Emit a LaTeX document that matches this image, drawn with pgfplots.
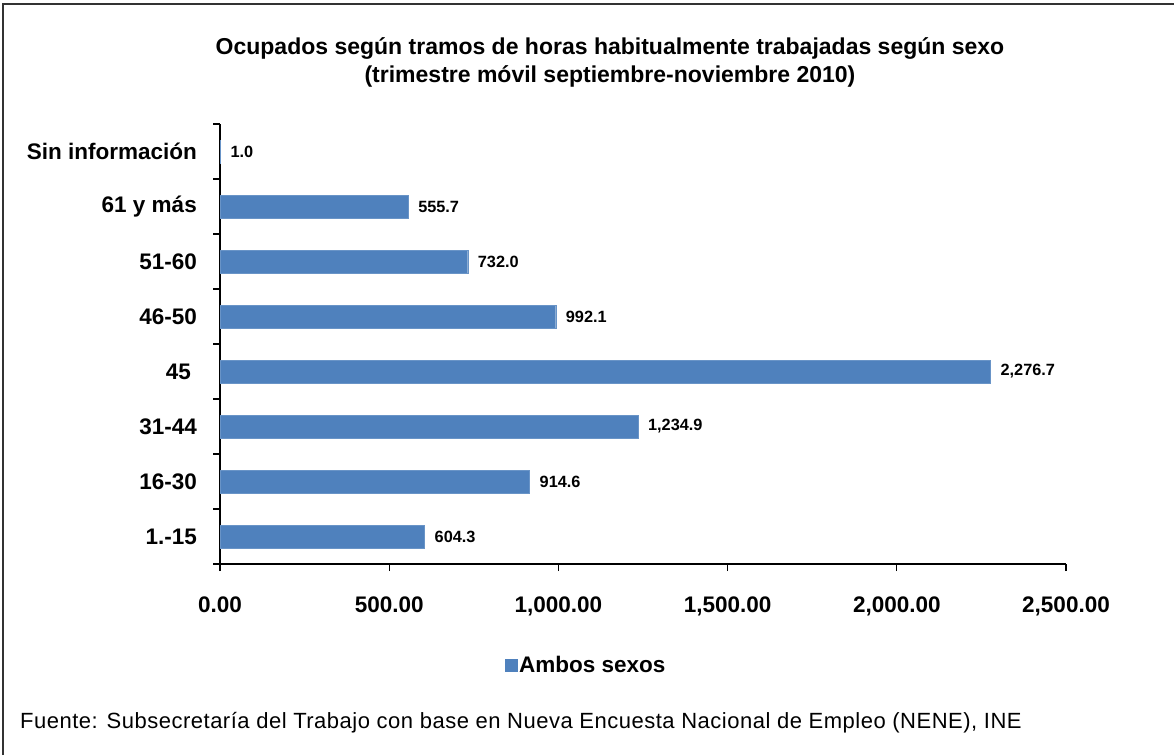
\documentclass[border=0pt]{standalone}
\usepackage{fontspec}
\setmainfont{Liberation Sans}
\usepackage{pgfplots}
\pgfplotsset{compat=1.18}
\definecolor{barblue}{HTML}{4F81BD}
\begin{document}
\begin{tikzpicture}
\useasboundingbox (0,0) rectangle (1174pt,755pt);
\draw[line width=2pt, color=black!80] (3pt,0pt) -- (3pt,751pt) -- (1174pt,751pt);
\node[anchor=base, inner sep=0pt, font=\fontsize{23}{27}\selectfont\bfseries] at (610pt,700pt) {Ocupados según tramos de horas habitualmente trabajadas según sexo};
\node[anchor=base, inner sep=0pt, font=\fontsize{23}{27}\selectfont\bfseries] at (610pt,672pt) {(trimestre móvil septiembre-noviembre 2010)};
\node[anchor=base west, inner sep=0pt, font=\fontsize{22}{26}\selectfont\addfontfeature{LetterSpace=2.3}] at (20pt,27pt) {Fuente: Subsecretaría del Trabajo con base en Nueva Encuesta Nacional de Empleo (NENE), INE};
\begin{axis}[
  at={(220pt,191pt)}, anchor=south west,
  scale only axis, width=846pt, height=440pt,
  xbar, bar width=23pt,
  xmin=0, xmax=2500, ymin=-0.5, ymax=7.5,
  axis lines*=left,
  axis line style={line width=1.2pt, black},
  tick align=outside,
  xtick={0,500,1000,1500,2000,2500},
  xticklabels={0.00,500.00,{1,000.00},{1,500.00},{2,000.00},{2,500.00}},
  ytick={0,1,2,3,4,5,6,7},
  yticklabels={1.-15,16-30,31-44,{45\hspace*{6pt}},46-50,51-60,61 y más,Sin información},
  minor ytick={-0.5,0.5,1.5,2.5,3.5,4.5,5.5,6.5,7.5},
  major tick length=7pt, minor tick length=7pt,
  ytick style={draw=none},
  minor y tick style={line width=1.2pt, black, draw=black},
  xtick style={line width=1.2pt, black},
  ticklabel style={font=\fontsize{22.5}{27}\selectfont\bfseries},
  yticklabel style={inner sep=0pt, xshift=-16pt},
  xticklabel style={inner sep=0pt, anchor=base, yshift=-41pt},
  nodes near coords={\pgfmathprintnumber[fixed,fixed zerofill,precision=1,1000 sep={,}]{\pgfplotspointmeta}},
  point meta=x,
  nodes near coords style={font=\fontsize{16.3}{19}\selectfont\bfseries, anchor=west, inner sep=0pt, xshift=10pt, /pgf/number format/assume math mode=true},
  legend style={at={(0.4326,-0.2295)}, anchor=center, draw=none, fill=none, font=\fontsize{22.5}{27}\selectfont\bfseries, inner sep=0pt},
  legend image code/.code={\fill[barblue] (-4pt,-6pt) rectangle (8pt,6pt);},
  clip=false,
]
\addplot[fill=barblue, draw=barblue!85!white] coordinates {
(604.3,0) (914.6,1) (1234.9,2) (2276.7,3) (992.1,4) (732.0,5) (555.7,6) (1.0,7)
};
\addlegendentry{Ambos sexos}
\end{axis}
\end{tikzpicture}
\end{document}
